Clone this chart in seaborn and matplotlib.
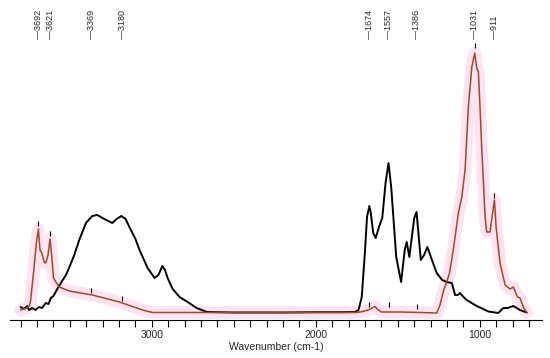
import numpy as np
import pandas as pd
import matplotlib
matplotlib.use("Agg")
import matplotlib.pyplot as plt
from matplotlib.ticker import FixedLocator, MultipleLocator
import seaborn as sns

# black spectrum (wavenumber, relative intensity)
black_wn = [3800, 3780, 3760, 3749, 3730, 3710, 3688, 3670, 3647, 3630, 3616, 3600,
            3570, 3524, 3500, 3473, 3443, 3402, 3363, 3333, 3290, 3241, 3215, 3186,
            3160, 3137, 3100, 3075, 3026, 2983, 2960, 2936, 2920, 2904, 2873, 2831,
            2782, 2727, 2665, 2500, 2200, 2000, 1850, 1760, 1740, 1720, 1700, 1688,
            1674, 1665, 1650, 1635, 1615, 1595, 1575, 1557, 1540, 1510, 1480, 1458,
            1446, 1430, 1400, 1386, 1360, 1340, 1320, 1290, 1263, 1230, 1202, 1171,
            1151, 1135, 1121, 1100, 1080, 1050, 1019, 980, 948, 887, 870, 857, 830,
            796, 775, 755, 714]
black_int = [6, 4, 7, 3, 5, 3, 6, 5, 10, 9, 15, 17,
             26, 38, 47, 58, 73, 90, 97, 98, 94, 90, 94, 97,
             94, 86, 74, 63, 45, 35, 38, 47, 43, 35, 24, 16,
             11, 5, 1, 0.5, 0.5, 0.8, 0.8, 1, 3, 16, 63, 96,
             107, 100, 80, 75, 86, 95, 130, 150, 125, 56, 31, 63,
             71, 56, 95, 101, 53, 58, 66, 52, 40, 33, 31, 30,
             18, 18, 20, 16, 13, 10, 7, 4, 1.5, 0, 3, 5, 5,
             7, 5, 3, 0.5]

# red spectrum
red_wn = [3800, 3780, 3759, 3745, 3739, 3718, 3704, 3692, 3682, 3671, 3657, 3647,
          3633, 3621, 3610, 3600, 3585, 3565, 3504, 3363, 3198, 3057, 2996, 2500,
          2000, 1760, 1728, 1680, 1640, 1625, 1600, 1483, 1360, 1263, 1243, 1222,
          1200, 1185, 1162, 1131, 1110, 1090, 1070, 1049, 1031, 1019, 1009, 999,
          988, 979, 968, 958, 938, 911, 901, 877, 846, 816, 796, 771, 755, 735, 714]
red_int = [3, 4, 5, 8, 13, 46, 70, 84, 63, 60, 51, 50,
           58, 74, 56, 35, 31, 26, 22, 18, 11, 3, 0.5, 0.5,
           0.5, 0.5, 1, 3, 6.5, 4, 1, 1, 0.5, 0, 8, 22,
           32, 40, 63, 100, 116, 143, 206, 246, 260, 245, 241, 206,
           163, 133, 96, 81, 81, 113, 86, 50, 28, 24, 26, 16, 15, 6, 0.5]

# peak labels and small peak markers
peaks = [3692, 3621, 3369, 3180, 1674, 1557, 1386, 1031, 911]
mark_lo = [87, 77, 20, 12, 6, 6, 4, 265, 115]
mark_hi = [92, 82, 25, 17, 11, 11, 9, 270, 120]

sns.set_style("white")
plt.rcParams['font.family'] = ['Liberation Sans', 'DejaVu Sans']

fig = plt.figure(figsize=(5.5, 3.58), dpi=100)
ax = fig.add_axes([10 / 550, 38 / 358, 532 / 550, 320 / 358])

black = pd.DataFrame({"wn": black_wn, "a": black_int})
red = pd.DataFrame({"wn": red_wn, "a": red_int})

# faint pink highlight under the red trace
sns.lineplot(data=red, x="wn", y="a", ax=ax, color="#fce4f4", lw=9)
sns.lineplot(data=black, x="wn", y="a", ax=ax, color="black", lw=1.4)
sns.lineplot(data=red, x="wn", y="a", ax=ax, color="#a3481c", lw=1.1)

ax.vlines(peaks, mark_lo, mark_hi, color="black", lw=0.8)
for p in peaks:
    ax.text(p, 274, "\u2014" + str(p), rotation=90, ha="center", va="bottom",
            fontsize=6.5)

ax.set_xlim(3865, 621)
ax.set_ylim(-7, 313)
ax.xaxis.set_major_locator(FixedLocator([3000, 2000, 1000]))
ax.xaxis.set_minor_locator(MultipleLocator(100))
ax.tick_params(axis="x", which="both", direction="out", length=5, width=0.8,
               color="black", labelsize=7.5, pad=2, bottom=True)
ax.set_yticks([])
ax.set_ylabel("")
ax.set_xlabel("Wavenumber (cm-1)", fontsize=7.5, labelpad=2)
for s in ["left", "right", "top"]:
    ax.spines[s].set_visible(False)
ax.spines["bottom"].set_color("black")
ax.spines["bottom"].set_linewidth(0.8)

fig.savefig("out.png", dpi=100)
